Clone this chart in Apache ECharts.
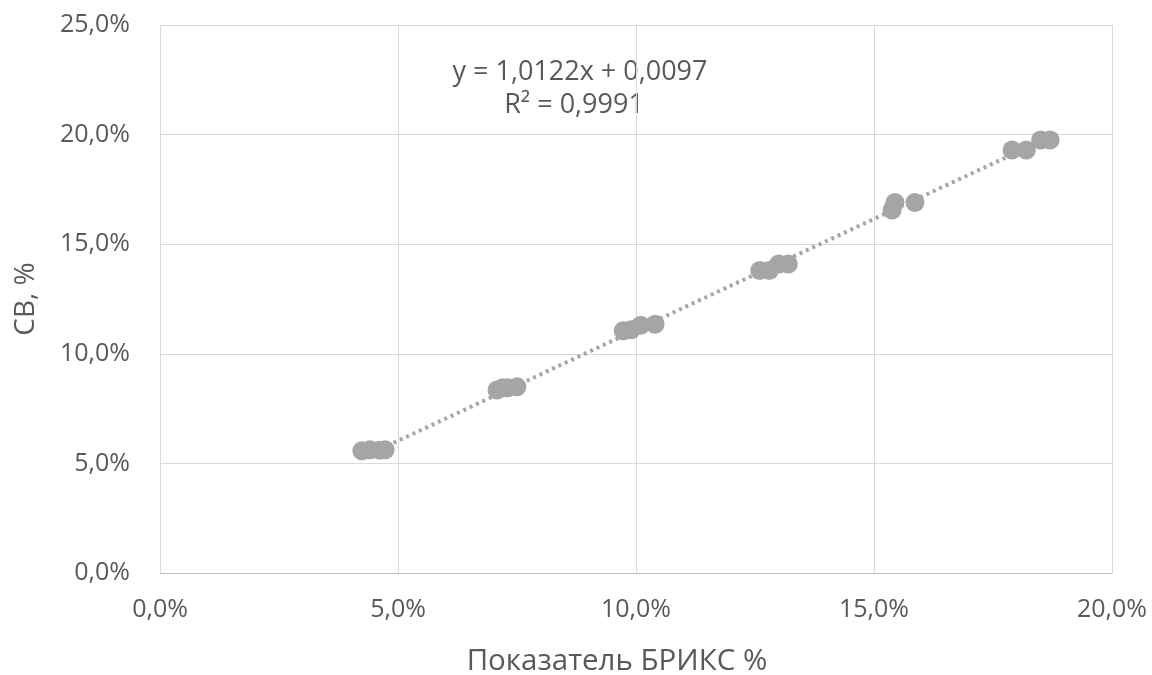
<!DOCTYPE html>
<html><head><meta charset="utf-8">
<script src="https://cdn.jsdelivr.net/npm/echarts@6/dist/echarts.min.js"></script>
<style>html,body{margin:0;padding:0;background:#fff}#c{width:1152px;height:675px}</style>
</head><body><div id="c"></div>
<script>
const brix = [4.24,4.41,4.62,4.73, 7.08,7.2,7.3,7.5, 9.73,9.9,10.1,10.4, 12.6,12.8,13.0,13.2, 15.38,15.44,15.86, 17.9,18.2,18.5,18.7];
const sv   = [5.58,5.62,5.6,5.62, 8.35,8.45,8.45,8.5, 11.05,11.1,11.3,11.35, 13.8,13.8,14.1,14.1, 16.56,16.9,16.9, 19.3,19.3,19.75,19.75];
const slope = 1.0122, intercept = 0.0097;
const eqText = 'y = 1,0122x + 0,0097';
const r2Text = 'R² = 0,9991';
const xTitle = 'Показатель БРИКС %';
const yTitle = 'СВ, %';

const pts = brix.map((x,i)=>[x, sv[i]]);
const xmin = Math.min(...brix), xmax = Math.max(...brix);
const trend = [[xmin, slope*xmin + intercept*100],[xmax, slope*xmax + intercept*100]];
const fmt = v => v.toFixed(1).replace('.', ',') + '%';
const font = '"Open Sans", sans-serif';
const txt = '#595959';

const chart = echarts.init(document.getElementById('c'));
chart.setOption({
  animation:false,
  grid:{left:160, right:40, top:25, bottom:102},
  xAxis:{type:'value', min:0, max:20, interval:5,
    axisLine:{show:true, lineStyle:{color:'#BFBFBF'}}, axisTick:{show:false},
    axisLabel:{formatter:fmt, fontSize:25, color:txt, fontFamily:font, margin:24},
    splitLine:{lineStyle:{color:'#D9D9D9', width:1}}},
  yAxis:{type:'value', min:0, max:25, interval:5,
    name:yTitle, nameLocation:'middle', nameGap:120, nameRotate:90,
    nameTextStyle:{fontSize:28, color:txt, fontFamily:font},
    axisLine:{show:false}, axisTick:{show:false},
    axisLabel:{formatter:fmt, fontSize:25, color:txt, fontFamily:font, margin:30},
    splitLine:{lineStyle:{color:'#D9D9D9', width:1}}},
  graphic:[
    {type:'text', x:580, y:72, style:{text:eqText, fontSize:27, fill:txt, fontFamily:font, textAlign:'center', textVerticalAlign:'middle'}},
    {type:'text', x:574, y:105, style:{text:r2Text, fontSize:27, fill:txt, fontFamily:font, textAlign:'center', textVerticalAlign:'middle'}},
    {type:'text', x:617, y:662, style:{text:xTitle, fontSize:29.5, fill:txt, fontFamily:font, textAlign:'center', textVerticalAlign:'middle'}}
  ],
  series:[
    {type:'line', data:trend, symbol:'none', lineStyle:{color:'#A5A5A5', width:4, type:[3,4]}, z:1},
    {type:'scatter', data:pts, symbolSize:19, itemStyle:{color:'#A5A5A5', opacity:1}, z:2}
  ]
});
</script></body></html>
